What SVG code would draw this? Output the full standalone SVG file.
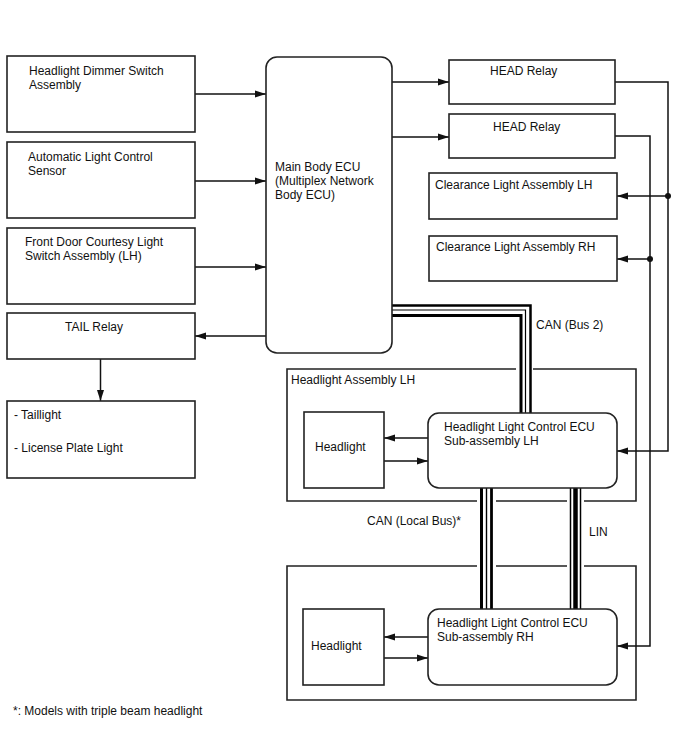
<svg xmlns="http://www.w3.org/2000/svg" width="688" height="755" viewBox="0 0 688 755">
<defs>
<style>
.box{fill:#fff;stroke:#222;stroke-width:1.6}
.frame{fill:none;stroke:#222;stroke-width:1.6}
.wire{fill:none;stroke:#111;stroke-width:1.5}
.arr{marker-end:url(#ah)}
.bus{fill:none;stroke:#000}
text{font-family:"Liberation Sans",Arial,sans-serif;font-size:12px;fill:#111}
</style>
<marker id="ah" markerUnits="userSpaceOnUse" markerWidth="12" markerHeight="8" refX="11" refY="4" orient="auto">
<path d="M0,0.5 L11,4 L0,7.5 z" fill="#111"/>
</marker>
</defs>
<rect width="688" height="755" fill="#fff"/>

<g id="frames">
<path class="frame" d="M516,369 H287 V501 H477 M496,501 H567 M584,501 H636 V369 H533"/>
<path class="frame" d="M477,566 H287 V700 H636 V566 H584 M567,566 H496"/>
<text x="291" y="384">Headlight Assembly LH</text>
</g>

<g id="connectors">
<path class="wire arr" d="M195,94 H266"/>
<path class="wire arr" d="M195,181 H266"/>
<path class="wire arr" d="M195,267 H266"/>
<path class="wire arr" d="M266,336 H195"/>
<path class="wire arr" d="M100.5,359 V401"/>
<path class="wire arr" d="M392,82 H449"/>
<path class="wire arr" d="M392,137 H449"/>
<path class="wire arr" d="M615,82 H668 V451 H617"/>
<path class="wire arr" d="M615,136 H650 V646 H617"/>
<path class="wire arr" d="M668,196 H617"/>
<path class="wire arr" d="M650,259 H617"/>
<circle cx="668" cy="196" r="3" fill="#111"/>
<circle cx="650" cy="259" r="3" fill="#111"/>
<path class="wire arr" d="M428,438 H384"/>
<path class="wire arr" d="M384,461 H428"/>
<path class="wire arr" d="M428,637 H384"/>
<path class="wire arr" d="M384,658 H428"/>
<!-- CAN Bus 2 -->
<path class="bus" stroke-width="2.5" d="M392,305.5 H530.5 V413"/>
<path class="bus" stroke-width="1.2" d="M392,310 H525.5 V413"/>
<path class="bus" stroke-width="3" d="M392,315.5 H521 V413"/>
<!-- CAN Local Bus -->
<path class="bus" stroke-width="3" d="M481.5,488 V609"/>
<path class="bus" stroke-width="1.4" d="M486.5,488 V609"/>
<path class="bus" stroke-width="2.8" d="M491.5,488 V609"/>
<!-- LIN -->
<path class="bus" stroke-width="1.5" d="M570.5,488 V609"/>
<path class="bus" stroke-width="4.5" d="M575.5,488 V609"/>
<path class="bus" stroke-width="1.5" d="M580.5,488 V609"/>
<text x="536" y="329">CAN (Bus 2)</text>
<text x="367" y="525">CAN (Local Bus)*</text>
<text x="589" y="536">LIN</text>
</g>

<g id="dimmer">
<rect class="box" x="7" y="56" width="188" height="76"/>
<text x="29" y="75">Headlight Dimmer Switch</text>
<text x="29" y="89">Assembly</text>
</g>
<g id="sensor">
<rect class="box" x="7" y="142" width="188" height="76"/>
<text x="28" y="161">Automatic Light Control</text>
<text x="28" y="175">Sensor</text>
</g>
<g id="door">
<rect class="box" x="7" y="228" width="188" height="76"/>
<text x="25" y="246">Front Door Courtesy Light</text>
<text x="25" y="260">Switch Assembly (LH)</text>
</g>
<g id="tail">
<rect class="box" x="7" y="313" width="188" height="46"/>
<text x="65" y="331">TAIL Relay</text>
</g>
<g id="taillight">
<rect class="box" x="7" y="401" width="188" height="77"/>
<text x="14" y="419">- Taillight</text>
<text x="14" y="452">- License Plate Light</text>
</g>
<g id="mainecu">
<rect class="box" x="266" y="57" width="126" height="296" rx="11"/>
<text x="275" y="171">Main Body ECU</text>
<text x="275" y="185">(Multiplex Network</text>
<text x="275" y="199">Body ECU)</text>
</g>
<g id="head1">
<rect class="box" x="449" y="60" width="166" height="44"/>
<text x="490" y="75">HEAD Relay</text>
</g>
<g id="head2">
<rect class="box" x="449" y="114" width="166" height="44"/>
<text x="493" y="131">HEAD Relay</text>
</g>
<g id="clearlh">
<rect class="box" x="429" y="173" width="188" height="46"/>
<text x="435" y="189">Clearance Light Assembly LH</text>
</g>
<g id="clearrh">
<rect class="box" x="429" y="236" width="188" height="45"/>
<text x="436" y="251">Clearance Light Assembly RH</text>
</g>
<g id="ecu-lh">
<rect class="box" x="428" y="413" width="189" height="75" rx="11"/>
<text x="444" y="431">Headlight Light Control ECU</text>
<text x="444" y="445">Sub-assembly LH</text>
</g>
<g id="hl-lh">
<rect class="box" x="304" y="412" width="80" height="76"/>
<text x="315" y="451">Headlight</text>
</g>
<g id="ecu-rh">
<rect class="box" x="428" y="609" width="189" height="76" rx="11"/>
<text x="437" y="627">Headlight Light Control ECU</text>
<text x="437" y="641">Sub-assembly RH</text>
</g>
<g id="hl-rh">
<rect class="box" x="303" y="609" width="81" height="76"/>
<text x="311" y="650">Headlight</text>
</g>
<g id="note">
<text x="13" y="715">*: Models with triple beam headlight</text>
</g>
</svg>
